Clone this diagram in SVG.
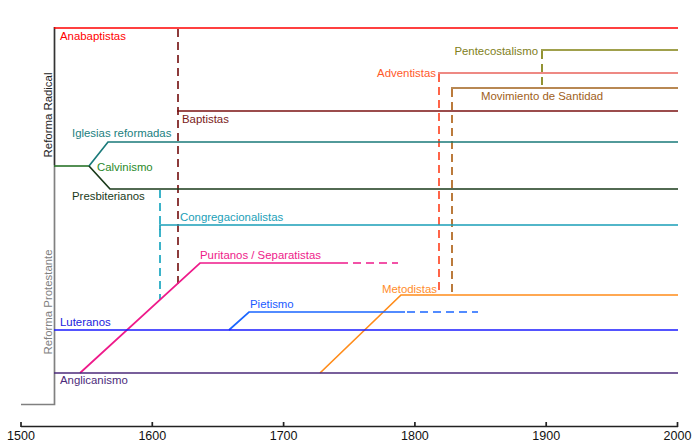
<svg xmlns="http://www.w3.org/2000/svg" width="700" height="448" viewBox="0 0 700 448">
<style>
text{font-family:"Liberation Sans",Arial,sans-serif;font-size:11.4px}
.ax{font-size:12.5px;fill:#111}
line,polyline,path{fill:none;stroke-width:1.7}
.d{stroke-dasharray:8,5}
</style>
<rect width="700" height="448" fill="#fff"/>
<g id="axis">
<line x1="21" y1="426.5" x2="678" y2="426.5" stroke="#222" stroke-width="1.5"/>
<path d="M21,422V427M152.3,422V427M283.6,422V427M414.9,422V427M546.2,422V427M677.5,422V427" stroke="#222" stroke-width="1.5"/>
<text class="ax" x="21" y="439.5" text-anchor="middle">1500</text>
<text class="ax" x="152.3" y="439.5" text-anchor="middle">1600</text>
<text class="ax" x="283.6" y="439.5" text-anchor="middle">1700</text>
<text class="ax" x="414.9" y="439.5" text-anchor="middle">1800</text>
<text class="ax" x="546.2" y="439.5" text-anchor="middle">1900</text>
<text class="ax" x="677.5" y="439.5" text-anchor="middle">2000</text>
</g>
<g id="brackets">
<polyline points="21,404.5 54.5,404.5 54.5,165" stroke="#808080" stroke-width="1.8"/>
<line x1="54.5" y1="165" x2="54.5" y2="27" stroke="#333" stroke-width="1.8"/>
<text x="48" y="115" transform="rotate(-90 48 115)" text-anchor="middle" dominant-baseline="central" fill="#222">Reforma Radical</text>
<text x="48" y="302" transform="rotate(-90 48 302)" text-anchor="middle" dominant-baseline="central" fill="#808080">Reforma Protestante</text>
</g>
<g id="connectors">
<line class="d" x1="178" y1="29" x2="178" y2="285" stroke="#7a1a1a"/>
<line class="d" x1="160" y1="190" x2="160" y2="300" stroke="#1aa6c0"/>
<line class="d" x1="439" y1="74" x2="439" y2="295" stroke="#ff4a2a"/>
<line class="d" x1="452" y1="89" x2="452" y2="295" stroke="#b0641a"/>
<line class="d" x1="542" y1="51" x2="542" y2="88" stroke="#808010"/>
</g>
<g id="anabaptistas">
<line x1="54" y1="28" x2="678" y2="28" stroke="#ff0000"/>
<text x="60" y="40" fill="#ff0000">Anabaptistas</text>
</g>
<g id="pentecostalismo">
<line x1="541" y1="50" x2="678" y2="50" stroke="#808010"/>
<text x="538" y="55" text-anchor="end" fill="#808020">Pentecostalismo</text>
</g>
<g id="adventistas">
<line x1="438" y1="73" x2="678" y2="73" stroke="#e8625a"/>
<text x="436" y="77" text-anchor="end" fill="#ff5a2a">Adventistas</text>
</g>
<g id="santidad">
<line x1="451" y1="88" x2="678" y2="88" stroke="#a0601a"/>
<text x="481" y="100" fill="#a0601a">Movimiento de Santidad</text>
</g>
<g id="baptistas">
<line x1="177" y1="111" x2="678" y2="111" stroke="#7a1010"/>
<text x="182" y="123" fill="#7a1a1a">Baptistas</text>
</g>
<g id="calvinismo">
<line x1="54" y1="166" x2="89" y2="166" stroke="#1a6a1a"/>
<text x="97" y="171" fill="#2a8a2a">Calvinismo</text>
</g>
<g id="iglesias-reformadas">
<polyline points="89,166 108,142 678,142" stroke="#1a7a7a"/>
<text x="72" y="137" fill="#1a8080">Iglesias reformadas</text>
</g>
<g id="presbiterianos">
<polyline points="89,166 110,189 678,189" stroke="#1a3a1a"/>
<text x="72" y="200" fill="#1a3a1a">Presbiterianos</text>
</g>
<g id="congregacionalistas">
<polyline points="160,230 160,225 678,225" stroke="#1a9fb8"/>
<text x="180" y="221" fill="#1aa0b8">Congregacionalistas</text>
</g>
<g id="puritanos">
<polyline points="80,373 200,263 340,263" stroke="#ee1a8a"/>
<line class="d" x1="340" y1="263" x2="398" y2="263" stroke="#ee1a8a"/>
<text x="200" y="259" fill="#ee1a8a">Puritanos / Separatistas</text>
</g>
<g id="metodistas">
<polyline points="320,373 401,295 678,295" stroke="#ff8c1a"/>
<text x="437" y="293" text-anchor="end" fill="#ff8c2a">Metodistas</text>
</g>
<g id="pietismo">
<polyline points="229,330 249,312 405,312" stroke="#1a66ff"/>
<line class="d" x1="407" y1="312" x2="478" y2="312" stroke="#1a66ff"/>
<text x="250" y="308" fill="#1a5aff">Pietismo</text>
</g>
<g id="luteranos">
<line x1="54" y1="330" x2="678" y2="330" stroke="#1a1aff"/>
<text x="60" y="326" fill="#1a1add">Luteranos</text>
</g>
<g id="anglicanismo">
<line x1="54" y1="373" x2="678" y2="373" stroke="#4b2a7a"/>
<text x="60" y="384" fill="#4b2a7a">Anglicanismo</text>
</g>
</svg>
